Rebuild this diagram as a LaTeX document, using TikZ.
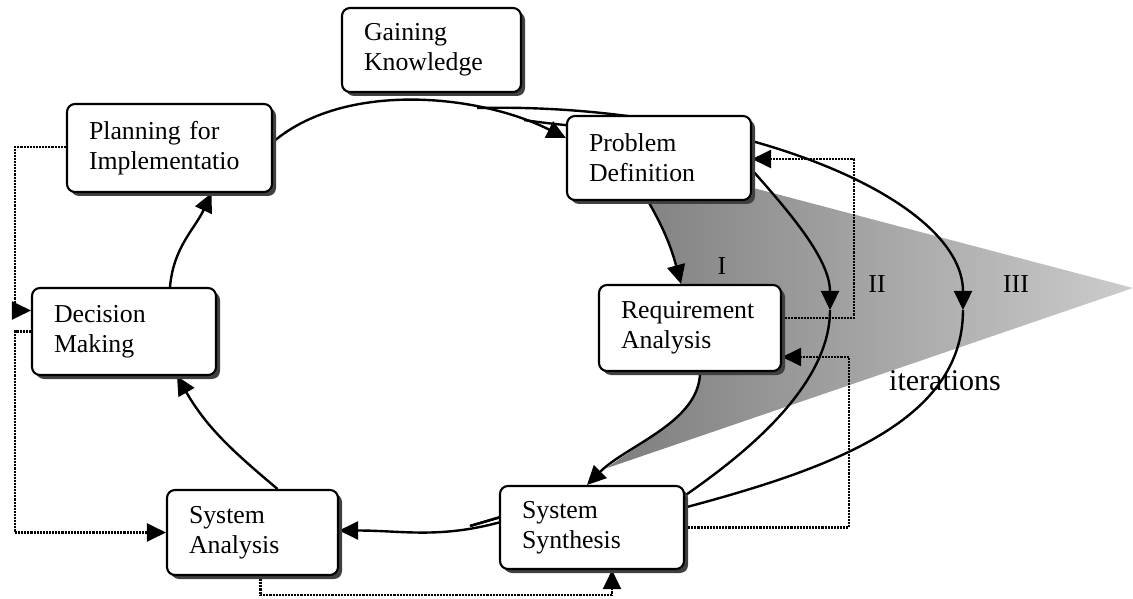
\documentclass[tikz,border=0pt]{standalone}
\usepackage{fontspec}
\setmainfont{Liberation Serif}
\usetikzlibrary{arrows.meta,shadows}
\pgfdeclarelayer{shade}
\pgfdeclarelayer{lines}
\pgfsetlayers{shade,lines,main}

\begin{document}
\begin{tikzpicture}[x=1pt,y=1pt,
  box/.style={draw, line width=2.1pt, rounded corners=8pt, fill=white, align=left,
    inner xsep=22pt, inner ysep=0pt, font=\fontsize{25.8}{30}\selectfont,
    drop shadow={shadow xshift=4pt, shadow yshift=-4pt, fill=black!75, opacity=1}},
  flow/.style={line width=2.4pt},
  tip/.style={-{Triangle[length=19pt,width=18pt]}},
  fb/.style={densely dotted, line width=2.1pt},
  lbl/.style={font=\fontsize{25.8}{30}\selectfont, inner sep=0pt}]

\useasboundingbox (0,0) rectangle (1133,598);

% process steps
\node[box, text width=135pt, minimum height=84pt] (gk)   at (431.5,548)  {Gaining\\Knowledge};
\node[box, text width=161pt, minimum height=88pt] (plan) at (169.5,450)  {Planning for\\Implementatio};
\node[box, text width=140pt, minimum height=87pt] (dm)   at (124,266.5)  {Decision\\Making};
\node[box, text width=140pt, minimum height=84pt] (pd)   at (659,440)    {Problem\\Definition};
\node[box, text width=138pt, minimum height=86pt] (ra)   at (690,270)    {Requirement\\Analysis};
\node[box, text width=127pt, minimum height=85pt] (sa)   at (252.5,65.5) {System\\Analysis};
\node[box, text width=140pt, minimum height=83pt] (ss)   at (592,70.5)   {System\\Synthesis};

% iteration labels
\node[lbl, anchor=base] (l1) at (722,323) {I};
\node[lbl, anchor=base] (l2) at (877,305) {II};
\node[lbl, anchor=base] (l3) at (1016,305) {III};
\node[lbl, font=\fontsize{30}{36}\selectfont, anchor=base] (it) at (945,208) {iterations};

% loop helper points
\coordinate (g3) at (477,490);
\coordinate (g2) at (524,478);
\coordinate (t3) at (963,288);
\coordinate (t2) at (830,288);
\coordinate (m)  at (470,72);

% shaded wedge of the iterations
\begin{pgfonlayer}{shade}
  \begin{scope}
    \clip (1133,310) -- (560,461) -- (540,107) -- cycle;
    \shade[left color=black!52, right color=black!20]
      ([xshift=-11]pd.south) to[out=-60,in=105] ([xshift=-9]ra.north)
      -- ([xshift=10]ra.south) .. controls +(0,-50) and +(40,40) .. ([xshift=-5]ss.north)
      -- (1133,112) -- (1133,470) -- (648,470) -- cycle;
  \end{scope}
\end{pgfonlayer}

\begin{pgfonlayer}{lines}
  % main cycle
  \draw[flow,tip] ([yshift=6]plan.east) .. controls +(70,60) and +(-90,45) .. ([yshift=20]pd.west);
  \draw[flow,tip] ([xshift=-11]pd.south) to[out=-60,in=105] ([xshift=-9]ra.north);
  \draw[flow,tip] ([xshift=10]ra.south) .. controls +(0,-50) and +(40,40) .. ([xshift=-5]ss.north);
  \draw[flow,tip] ([yshift=5]ss.west) to[out=195,in=0] ([yshift=2]sa.east);
  \draw[flow,tip] ([xshift=25]sa.north) to[out=140,in=-60] ([xshift=53]dm.south);
  \draw[flow,tip] ([xshift=46]dm.north) to[out=85,in=-115] ([xshift=42]plan.south);

  % iteration II
  \draw[flow,tip] (g2) .. controls +(100,-15) and +(-40,45) .. ([yshift=-12]pd.east)
                       .. controls +(40,-45) and +(0,50) .. (t2);
  \draw[flow] (t2) .. controls +(0,-80) and +(50,35) .. ([yshift=32]ss.east)
              -- ([yshift=10]ss.west) -- (m);
  % iteration III
  \draw[flow,tip] (g3) .. controls +(250,6) and +(0,115) .. (t3);
  \draw[flow] (t3) .. controls +(0,-110) and +(150,40) .. ([yshift=20]ss.east)
              -- ([yshift=10]ss.west) -- (m);

  % feedback paths
  \draw[fb,tip] ([yshift=1]plan.west) -- ++(-51,0) |- ([yshift=21]dm.west);
  \draw[fb,tip] (dm.west) -- ++(-16,0) |- (sa.west);
  \draw[fb,tip] ([xshift=8]sa.south) -- ++(0,-19) -| ([xshift=20]ss.south);
  \draw[fb,tip] (ss.east) -- ++(164,0) |- ([yshift=-29]ra.east);
  \draw[fb,tip] ([yshift=10]ra.east) -- ++(72,0) |- ([yshift=-1]pd.east);
\end{pgfonlayer}
\end{tikzpicture}
\end{document}
